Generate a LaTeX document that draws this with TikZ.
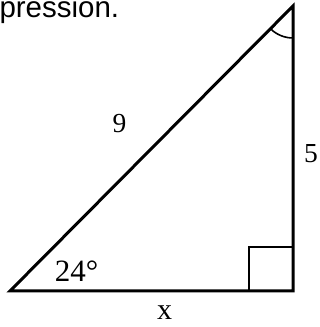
\documentclass[tikz,border=0pt]{standalone}
\usepackage{fontspec}
\setmainfont{Liberation Serif}
\newfontfamily\arialfont{Liberation Sans}
\begin{document}
\begin{tikzpicture}[x=1pt,y=1pt,line width=3pt]
\useasboundingbox (0,0) rectangle (320,327);
\coordinate (A) at (10,36);
\coordinate (B) at (293,36);
\coordinate (C) at (293,321);
\draw[line join=miter] (A) -- (B) -- (C) -- cycle;
\draw[line width=2.4pt] (249,36) |- (293,80);
\draw[line width=1.6pt] ([shift={(225:32)}]C) arc[start angle=225,end angle=270,radius=32];
\node[anchor=base west,inner sep=0pt] (head) at (-2,309) {\arialfont\fontsize{29.5}{31}\selectfont pression.};
\node (hyp)   at (119.5,203.5) {\fontsize{27.5}{29}\selectfont 9};
\node (side)  at (311,173)     {\fontsize{27.5}{29}\selectfont 5};
\node (angle) at (76.5,56)     {\fontsize{31}{33}\selectfont 24°};
\node (base)  at (164.5,14)    {\fontsize{30}{32}\selectfont x};
\end{tikzpicture}
\end{document}
